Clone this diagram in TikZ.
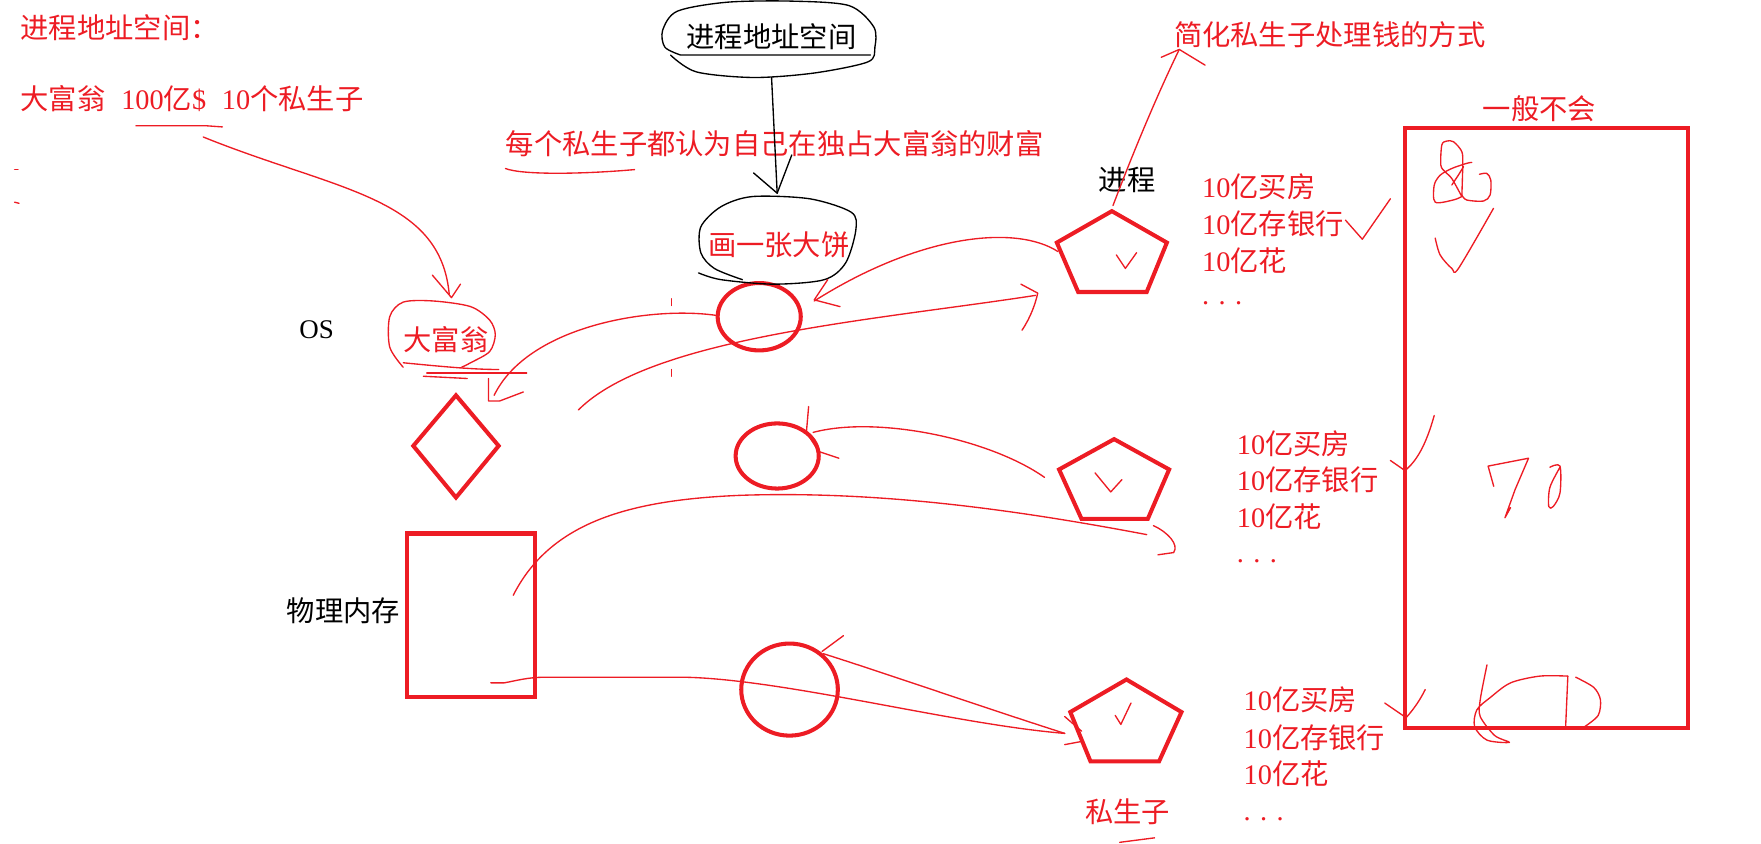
\documentclass[tikz,border=0pt]{standalone}
\usepackage{fontspec}
\setmainfont{Noto Sans CJK SC}
\newfontfamily\lat{Liberation Serif}
\usepackage{tikz}
\usetikzlibrary{positioning}
\usepackage{xcolor}
\definecolor{pred}{RGB}{237,28,36}

\begin{document}
\begin{tikzpicture}[x=0.5pt, y=-0.5pt,
  thickred/.style={pred, line width=1.8pt, line join=miter},
  pen/.style={pred, line width=0.6pt, line cap=round, line join=round},
  blackpen/.style={black, line width=0.6pt, line cap=round, line join=round},
  txt/.style={anchor=west, inner sep=0pt, font=\fontsize{12.6pt}{14pt}\selectfont},
  rtxt/.style={txt, text=pred}]

\useasboundingbox (0,0) rectangle (1568,751);

\coordinate (cirA) at (676,282);
\coordinate (cirB) at (692,406);
\coordinate (cirC) at (703,614);

% shapes
{
\draw[thickred] (cirA) ellipse [x radius=37, y radius=30];
\draw[thickred] (cirB) ellipse [x radius=37, y radius=29];
\draw[thickred] (cirC) ellipse [x radius=43, y radius=41];

\draw[thickred] (406,352)--(444,397)--(406,443)--(368,397)--cycle;
\draw[thickred] (362,475) rectangle (476,621);
\draw[thickred] (1251,114) rectangle (1503,648);

\draw[thickred] (990,188)--(1039,216)--(1021,260)--(960,260)--(941,216)--cycle;
\draw[thickred] (992,391)--(1041,418)--(1022,462)--(963,462)--(943,418)--cycle;
\draw[thickred] (1003,605)--(1052,634)--(1032,678)--(971,678)--(953,634)--cycle;

%\draw[thickred] (990,228) circle [radius=40];
}

% nodes
{
\node[rtxt] (addr) at (18,25) {进程地址空间：};
\node[rtxt] (rich) at (18,88) {大富翁\hspace{7pt}{\lat 100}亿{\lat\$}\hspace{7pt}{\lat 10}个私生子};
\node[rtxt] (each) at (450,128) {每个私生子都认为自己在独占大富翁的财富};
\node[txt, anchor=center] (space) at (687,33) {进程地址空间};
\node[rtxt] (bing) at (630,218) {画一张大饼};
\node[rtxt] (simp) at (1045,31) {简化私生子处理钱的方式};
\node[rtxt] (never) at (1320,97) {一般不会};
\node[txt] (proc) at (978,160) {进程};
\node[txt, anchor=center, font=\lat\fontsize{12pt}{14pt}\selectfont] (os) at (282,294) {OS};
\node[rtxt] (boss) at (359,302) {大富翁};
\node[txt] (mem) at (255,544) {物理内存};
\node[rtxt] (kid) at (966,723) {私生子};

\node[rtxt] (buyA) at (1070,166) {{\lat 10}亿买房};
\node[rtxt] (bankA) at (1070,199) {{\lat 10}亿存银行};
\node[rtxt] (spendA) at (1070,232) {{\lat 10}亿花};
\node[rtxt] (dotsA) at (1070,270) {{\lat . . .}};

\node[rtxt] (buyB) at (1101,395) {{\lat 10}亿买房};
\node[rtxt] (bankB) at (1101,427) {{\lat 10}亿存银行};
\node[rtxt] (spendB) at (1101,460) {{\lat 10}亿花};
\node[rtxt] (dotsB) at (1101,500) {{\lat . . .}};

\node[rtxt] (buyC) at (1107,623) {{\lat 10}亿买房};
\node[rtxt] (bankC) at (1107,657) {{\lat 10}亿存银行};
\node[rtxt] (spendC) at (1107,689) {{\lat 10}亿花};
\node[rtxt] (dotsC) at (1107,729) {{\lat . . .}};
}

%black lines
{
\draw[blackpen] plot[smooth] coordinates {(597,49) (620,64) (671,69) (725,65) (773,55) (779,42) (778,24) (756,5) (705,1) (647,2) (603,10) (590,27) (592,42) (606,49)} -- (775,49);
\draw[blackpen] plot[smooth] coordinates {(622,243) (642,249) (689,253) (734,249) (753,234) (762,205) (758,189) (721,177) (670,175) (642,184) (624,202) (624,225) (636,239) (661,249)};
\draw[blackpen] (687,69)--(692,172);
\draw[blackpen] (671,154)--(692,172)--(705,138);
}

%red pen lines
{
% underlines
\draw[pen] (121,112)--(184,112)--(198,113);
\draw[pen] (450,150) .. controls (465,156) and (520,155) .. (565,151);
\draw[pen] (13,151)--++(3,0);
\draw[pen] (13,180)--++(4,1);
\draw[pen] (997,750)--(1028,746);

% rich man -> boss
\draw[pen] (181,122) .. controls (300,170) and (392,175) .. (400,262);
\draw[pen] (385,245)--(402,265)--(410,253);

% circle round the boss
\draw[pen] plot[smooth] coordinates {(359,327) (347,309) (347,282) (359,269) (386,268) (419,273) (436,285) (441,298) (436,313) (419,323) (411,327)};
\draw[pen] (359,323) .. controls (390,326) and (420,329) .. (444,329);
\draw[pen] (377,335)--(416,337);
\draw[pen] (380,332)--(469,332);

% circle A -> boss
\draw[pen] (639,281) .. controls (580,272) and (470,290) .. (440,352);
\draw[pen] (435,337)--(435,357)--(445,357)--(466,349);

% pentagon A -> circle A
\draw[pen] (942,224) .. controls (905,200) and (820,208) .. (725,268);
\draw[pen] (737,249)--(725,267)--(748,273);

% lower left -> pentagon A
\draw[pen] (515,365) .. controls (580,300) and (780,285) .. (922,263);
\draw[pen] (909,253)--(924,261) .. controls (922,270) and (918,282) .. (910,294);

\draw[pen] (598,266)--++(0,6);
\draw[pen] (598,329)--++(0,6);

% pentagon B -> circle B
\draw[pen] (930,425) .. controls (880,390) and (780,370) .. (724,385);
\draw[pen] (720,362)--(718,385)--(729,402)--(747,408);

% memory -> pentagon B
\draw[pen] (457,530) .. controls (490,465) and (560,445) .. (660,441) .. controls (780,437) and (900,453) .. (1021,476);
\draw[pen] (1027,468) .. controls (1040,474) and (1050,485) .. (1045,492) -- (1031,494);

% memory -> pentagon C
\draw[pen] (437,608)--(449,608) .. controls (460,606) and (470,603) .. (485,603) -- (610,603) .. controls (700,605) and (850,645) .. (948,653);
\draw[pen] (948,638)--(963,651);
\draw[pen] (948,663)--(964,660);

% pentagon C -> circle C
\draw[pen] (948,653) .. controls (870,628) and (790,600) .. (733,582);
\draw[pen] (751,566)--(732,580);
\draw[pen] (733,584) .. controls (740,592) and (745,602) .. (747,612);

% process -> simplified
\draw[pen] (991,183) .. controls (1015,120) and (1035,75) .. (1050,44);
\draw[pen] (1034,51)--(1050,44)--(1073,58);

% ticks
\draw[pen] (994,227)--(1002,239)--(1012,225);
\draw[pen] (975,421)--(989,438)--(999,427);
\draw[pen] (993,637)--(998,645)--(1007,626);
\draw[pen] (1198,196)--(1213,213)--(1238,177);
}

% inside the big box
{
% 80
\draw[pen] plot[smooth] coordinates {(1301.6,175) (1292.7,159) (1286.7,153) (1282.9,147) (1283.8,129) (1288.2,125.6) (1294.2,126.2) (1301.6,135) (1302.4,147) (1301.6,175)};
\draw[pen] plot[smooth] coordinates {(1301.6,175) (1294.2,178) (1277.9,180) (1277,165) (1282.3,156) (1292.7,150) (1306,145.4) (1310.4,144.6)};
\draw[pen] (1292.7,164.7)--(1298.6,155.8)--(1303.1,148.4);
\draw[pen] plot[smooth] coordinates {(1317.3,155.2) (1323.8,154.4) (1327.4,160.3) (1326.8,173.6) (1320.9,179) (1306,178.1) (1301.6,173.6)};
\draw[pen] plot[smooth] coordinates {(1277.9,212) (1282.3,227) (1292.7,239) (1298.6,239) (1329.8,185.5)};

% 70
\draw[pen] (1330,433)--(1325,415)--(1361,408)--(1349,436)--(1340,461)--(1345,452);
\draw[pen] plot[smooth] coordinates {(1380,416) (1389,415) (1389,439) (1383,451) (1379,451) (1380,434) (1389,416)};

% 60
\draw[pen] plot[smooth] coordinates {(1324,592) (1318,623) (1318,638) (1331,655) (1344,661) (1324,659) (1313,647) (1315,632) (1327,621) (1345,608) (1371,602) (1396,602)};
\draw[pen] (1396,602)--(1394,648);
\draw[pen] plot[smooth] coordinates {(1403,603) (1419,612) (1425,623) (1423,637) (1411,647)};

\draw[pen] (1277,370) .. controls (1270,395) and (1262,410) .. (1251,419);
\draw[pen] (1238,410)--(1251,419);
\draw[pen] (1269,614) .. controls (1265,622) and (1260,630) .. (1252,639);
\draw[pen] (1233,626)--(1252,639);
}

\end{tikzpicture}
\end{document}
